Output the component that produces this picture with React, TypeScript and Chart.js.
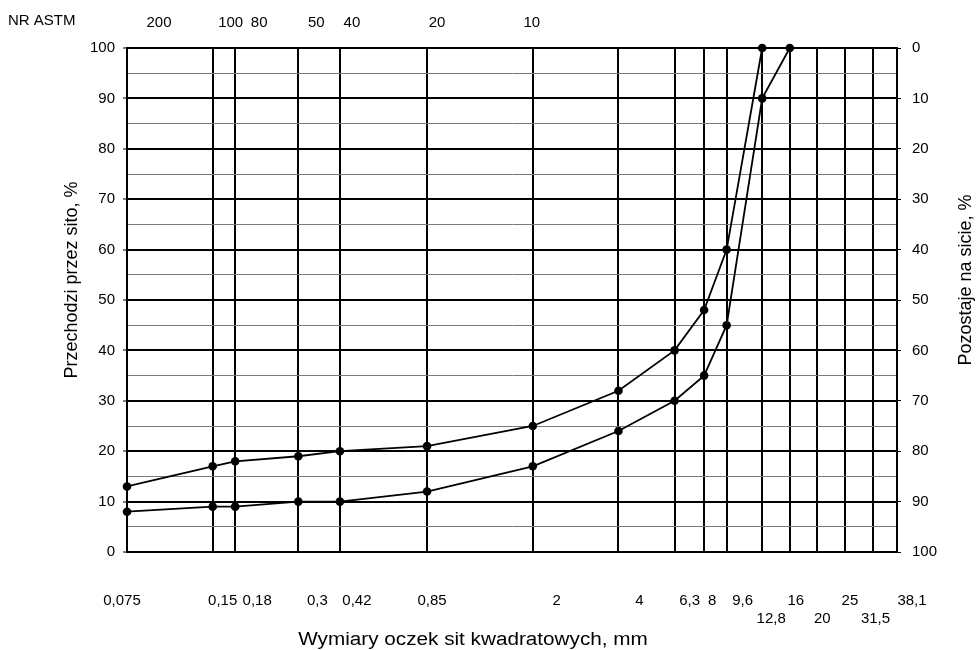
import React, { useEffect, useRef } from 'react';
import { Chart, registerables } from 'chart.js';

Chart.register(...registerables);

// ---- data ----
const sieveSizes = [0.075, 0.15, 0.18, 0.3, 0.42, 0.85, 2, 4, 6.3, 8, 9.6, 12.8, 16, 20, 25, 31.5, 38.1];
const sieveLabels = ['0,075', '0,15', '0,18', '0,3', '0,42', '0,85', '2', '4', '6,3', '8', '9,6', '12,8', '16', '20', '25', '31,5', '38,1'];
const lowerRowLabels = ['12,8', '20', '31,5'];
const astmSizes = [0.075, 0.15, 0.18, 0.3, 0.42, 0.85, 2];
const astmLabels = ['200', '100', '80', '50', '40', '20', '10'];
const upperCurve = [13, 17, 18, 19, 20, 21, 25, 32, 40, 48, 60, 100];
const lowerCurve = [8, 9, 9, 10, 10, 12, 17, 24, 30, 35, 45, 90, 100];

const leftTitle = 'Przechodzi przez sito, %';
const rightTitle = 'Pozostaje na sicie, %';
const bottomTitle = 'Wymiary oczek sit kwadratowych, mm';
const topTitle = 'NR ASTM';

// ---- style (typographic nudges of tick labels, in px, as in the printed chart) ----
const sieveLabelShift = [-5, 10, 22, 19, 17, 5, 24, 21, 15, 8, 16, 9, 6, 5, 5, 2, 15];
const astmLabelShift = [32, 18, 24, 18, 12, 10, -1];

const FONT = "'Liberation Sans', Arial, Helvetica, sans-serif";

function labelFor(value: number, sizes: number[], labels: string[]) {
  const i = sizes.findIndex((s) => Math.abs(s - value) < 1e-6);
  return i >= 0 ? labels[i] : '';
}

function shiftLabels(scale: any, labels: string[], shifts: number[]) {
  if (!scale || !scale.getLabelItems) return;
  const items = scale.getLabelItems();
  if (!items || items.__shifted) return;
  items.forEach((item: any) => {
    const text = Array.isArray(item.label) ? item.label.filter((s: string) => s).join('') : item.label;
    const i = labels.indexOf(text);
    if (i < 0) return;
    const tr = (item.options && item.options.translation) || item.translation;
    if (tr) tr[0] += shifts[i];
  });
  items.__shifted = true;
}

const labelShiftPlugin = {
  id: 'labelShift',
  beforeDraw(chart: any) {
    shiftLabels(chart.scales.x, sieveLabels, sieveLabelShift);
    shiftLabels(chart.scales.x2, astmLabels, astmLabelShift);
  },
};

const titlesPlugin = {
  id: 'sieveTitles',
  afterDraw(chart: any) {
    const { ctx, chartArea } = chart;
    const midY = (chartArea.top + chartArea.bottom) / 2 - 20;
    ctx.save();
    ctx.fillStyle = '#000';
    ctx.font = `18px ${FONT}`;
    ctx.textAlign = 'center';
    ctx.textBaseline = 'alphabetic';

    ctx.save();
    ctx.translate(chartArea.left - 50, midY);
    ctx.rotate(-Math.PI / 2);
    ctx.fillText(leftTitle, 0, 0);
    ctx.restore();

    ctx.save();
    ctx.translate(chartArea.right + 74, midY);
    ctx.rotate(-Math.PI / 2);
    ctx.fillText(rightTitle, 0, 0);
    ctx.restore();

    ctx.save();
    ctx.translate(chartArea.left + 346, chartArea.bottom + 93);
    ctx.scale(1.15, 1);
    ctx.fillText(bottomTitle, 0, 0);
    ctx.restore();

    ctx.font = `15px ${FONT}`;
    ctx.textAlign = 'left';
    ctx.textBaseline = 'middle';
    ctx.fillText(topTitle, 8, 21);
    ctx.restore();
  },
};

export default function App() {
  const canvasRef = useRef<HTMLCanvasElement | null>(null);

  useEffect(() => {
    document.body.style.margin = '0';
    const canvas = canvasRef.current;
    if (!canvas) return;

    const upperData = upperCurve.map((v, i) => ({ x: sieveSizes[i], y: v }));
    const lowerData = lowerCurve.map((v, i) => ({ x: sieveSizes[i], y: v }));

    const lineStyle = {
      borderColor: '#000',
      borderWidth: 1.8,
      pointRadius: 4.3,
      pointHoverRadius: 4.3,
      pointBackgroundColor: '#000',
      pointBorderColor: '#000',
      pointBorderWidth: 0,
      tension: 0,
      fill: false,
      clip: false,
    };

    const tickFont = { family: FONT, size: 15 };
    const minX = sieveSizes[0];
    const maxX = sieveSizes[sieveSizes.length - 1];

    const chart = new Chart(canvas, {
      type: 'line',
      data: {
        datasets: [
          { label: 'upper', data: upperData, ...lineStyle },
          { label: 'lower', data: lowerData, ...lineStyle },
        ],
      },
      options: {
        animation: false,
        responsive: true,
        maintainAspectRatio: false,
        events: [],
        layout: { padding: 0 },
        plugins: {
          legend: { display: false },
          tooltip: { enabled: false },
        },
        scales: {
          x: {
            type: 'logarithmic',
            position: 'bottom',
            min: minX,
            max: maxX,
            afterBuildTicks: (scale: any) => {
              scale.ticks = sieveSizes.map((v) => ({ value: v }));
            },
            afterFit: (scale: any) => {
              scale.height = 98;
            },
            ticks: {
              autoSkip: false,
              maxRotation: 0,
              minRotation: 0,
              padding: 40,
              color: '#000',
              font: tickFont,
              callback: (value: any) => {
                const l = labelFor(Number(value), sieveSizes, sieveLabels);
                return lowerRowLabels.includes(l) ? ['', l] : l;
              },
            },
            grid: {
              color: '#000',
              lineWidth: 2,
              drawTicks: false,
            },
            border: { display: true, color: '#000', width: 2 },
          },
          x2: {
            type: 'logarithmic',
            position: 'top',
            min: minX,
            max: maxX,
            afterBuildTicks: (scale: any) => {
              scale.ticks = astmSizes.map((v) => ({ value: v }));
            },
            afterFit: (scale: any) => {
              scale.height = 48;
            },
            ticks: {
              autoSkip: false,
              maxRotation: 0,
              minRotation: 0,
              padding: 8,
              color: '#000',
              font: tickFont,
              callback: (value: any) => labelFor(Number(value), astmSizes, astmLabels),
            },
            grid: { display: false },
            border: { display: true, color: '#000', width: 2 },
          },
          y: {
            type: 'linear',
            position: 'left',
            min: 0,
            max: 100,
            afterFit: (scale: any) => {
              scale.width = 127;
            },
            ticks: {
              stepSize: 5,
              padding: 8,
              color: '#000',
              font: tickFont,
              callback: (value: any) => (Number(value) % 10 === 0 ? String(value) : ''),
            },
            grid: {
              color: (c: any) => (c.tick && c.tick.value % 10 === 0 ? '#000' : '#7a7a7a'),
              lineWidth: (c: any) => (c.tick && c.tick.value % 10 === 0 ? 2 : 1),
              tickColor: (c: any) => (c.tick && c.tick.value % 10 === 0 ? '#000' : 'rgba(0,0,0,0)'),
              tickLength: 4,
              tickWidth: 1,
            },
            border: { display: true, color: '#000', width: 2 },
          },
          y2: {
            type: 'linear',
            position: 'right',
            min: 0,
            max: 100,
            reverse: true,
            afterFit: (scale: any) => {
              scale.width = 81;
            },
            ticks: {
              stepSize: 10,
              padding: 11,
              color: '#000',
              font: tickFont,
            },
            grid: {
              drawOnChartArea: false,
              color: '#000',
              tickLength: 4,
              tickWidth: 1,
            },
            border: { display: true, color: '#000', width: 2 },
          },
        },
      },
      plugins: [labelShiftPlugin, titlesPlugin],
    } as any);

    return () => {
      chart.destroy();
    };
  }, []);

  return (
    <div style={{ position: 'fixed', left: 0, top: 0, width: 978, height: 650, background: '#fff' }}>
      <canvas ref={canvasRef} />
    </div>
  );
}
